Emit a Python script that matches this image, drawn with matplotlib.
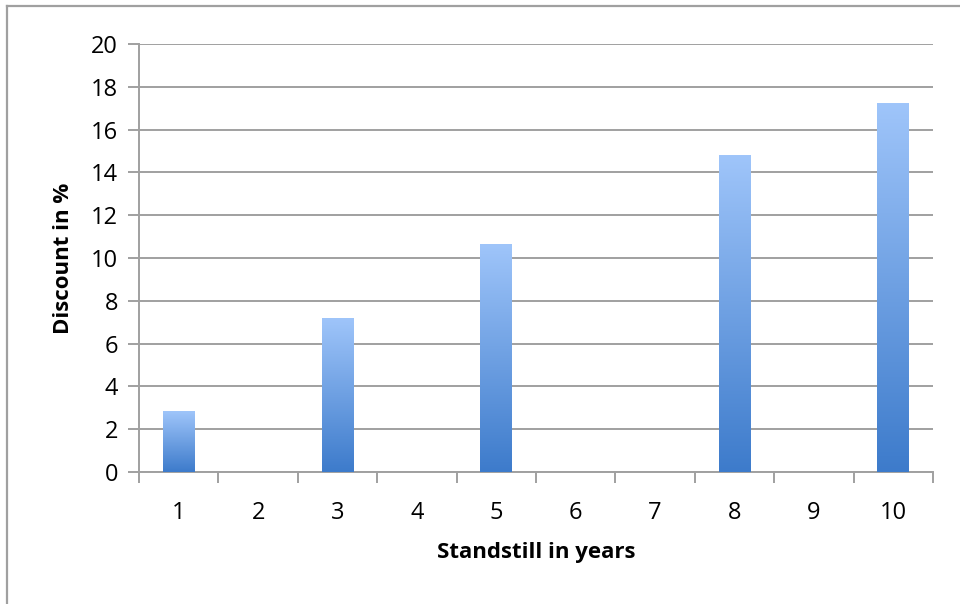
import numpy as np
import matplotlib.pyplot as plt
from matplotlib.lines import Line2D
from matplotlib.colors import LinearSegmentedColormap

# ------------------------------ 数据 ------------------------------ #
years = ['1', '2', '3', '4', '5', '6', '7', '8', '9', '10']
discount = [2.85, 0, 7.15, 0, 10.65, 0, 0, 14.77, 0, 17.22]
y_ticks = [0, 2, 4, 6, 8, 10, 12, 14, 16, 18, 20]

plt.rcParams['font.family'] = ['Open Sans', 'DejaVu Sans']

fig = plt.figure(figsize=(9.6, 6.04), dpi=100)
ax = fig.add_axes([139 / 960, 132 / 604, (933 - 139) / 960, (472 - 44) / 604])

grid_c = '#a0a0a0'
x = np.arange(len(years))
bars = ax.bar(x, discount, width=0.4, color='none', edgecolor='none', zorder=3)

# 每根柱子单独做上浅下深的渐变
cmap = LinearSegmentedColormap.from_list('bar', ['#3d7bcb', '#9fc5fa'])
grad = np.linspace(0, 1, 256).reshape(-1, 1)
for rect in bars:
    h = rect.get_height()
    if h <= 0:
        continue
    x0 = rect.get_x()
    ax.imshow(grad, cmap=cmap, origin='lower', aspect='auto',
              extent=(x0, x0 + rect.get_width(), 0, h), zorder=3)

ax.set_xlim(-0.5, len(years) - 0.5)
ax.set_ylim(0, 20)
ax.set_yticks(y_ticks)
ax.set_yticklabels([str(v) for v in y_ticks], fontsize=17)

# x 轴刻度线在类别之间，标签在类别中心
ax.set_xticks(np.arange(-0.5, len(years), 1.0))
ax.set_xticklabels([])
ax.set_xticks(x, minor=True)
ax.set_xticklabels(years, minor=True, fontsize=17)
ax.tick_params(axis='x', which='major', length=8, width=1.4, color=grid_c, direction='out')
ax.tick_params(axis='x', which='minor', length=0, pad=21)
ax.tick_params(axis='y', length=8, width=1.4, color=grid_c, direction='out', pad=7)

ax.yaxis.grid(True, color=grid_c, linewidth=1.4, zorder=0)
ax.set_axisbelow(True)
for side in ['top', 'right']:
    ax.spines[side].set_visible(False)
for side in ['left', 'bottom']:
    ax.spines[side].set_color(grid_c)
    ax.spines[side].set_linewidth(1.4)

ax.set_xlabel('Standstill in years', fontsize=16, fontweight='bold', labelpad=12)
ax.set_ylabel('Discount in %', fontsize=16, fontweight='bold', labelpad=12)

# 外框
fig.add_artist(Line2D([7 / 960, 7 / 960], [0, 1 - 6 / 604], color='#a0a0a0', linewidth=1.6))
fig.add_artist(Line2D([7 / 960, 1], [1 - 6 / 604, 1 - 6 / 604], color='#a0a0a0', linewidth=1.6))

plt.savefig('out.png', dpi=100)
